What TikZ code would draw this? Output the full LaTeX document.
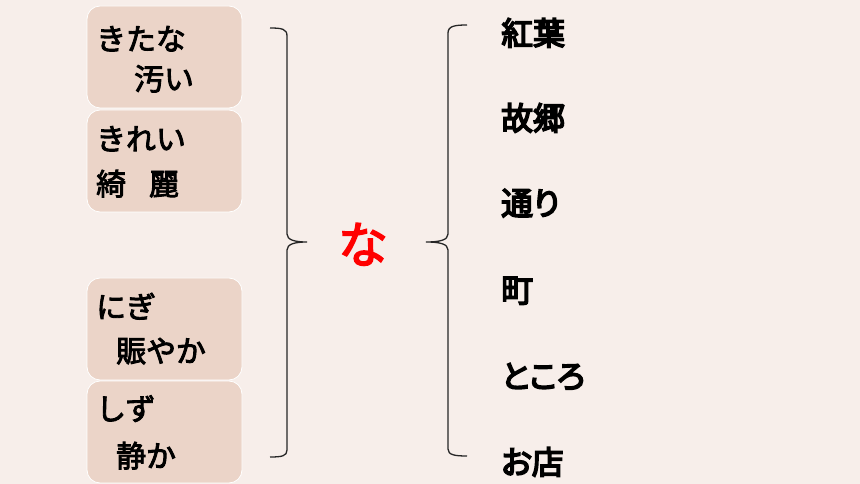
\documentclass[tikz,border=0pt]{standalone}
\usepackage{fontspec}
\newfontfamily\jp{Noto Sans CJK JP}[FakeBold=3]
\newfontfamily\jpm{Noto Sans CJK JP}[RawFeature=+palt,FakeBold=5]
\newfontfamily\jpn{Noto Sans CJK JP}[FakeBold=3]
\definecolor{bgc}{HTML}{F7EEEA}
\definecolor{boxc}{HTML}{EBD4C8}
\begin{document}
\begin{tikzpicture}[x=1bp,y=-1bp,
  wbox/.style={fill=boxc,draw=white,line width=0.8bp,rounded corners=13bp},
  ltxt/.style={anchor=base west,inner sep=0pt,font=\jp\fontsize{30}{36}\selectfont},
  rtxt/.style={anchor=base west,inner sep=0pt,font=\jpm\fontsize{32}{38}\selectfont},
  brace/.style={draw=black!85,line width=1.3bp}]
\useasboundingbox (0,0) rectangle (860,484);
\fill[bgc] (0,0) rectangle (860,484);
% boxes
\draw[wbox] (87,6) rectangle (242,108);
\draw[wbox] (87,110) rectangle (242,212);
\draw[wbox] (87,278) rectangle (242,380);
\draw[wbox] (87,381) rectangle (242,483);
% box texts
\node[ltxt] (a1) at (96,50) {きたな};
\node[ltxt] (a2) at (134,90) {汚い};
\node[ltxt] (b1) at (96,150) {きれい};
\node[ltxt] (b2) at (96,195) {綺\hspace{23bp}麗};
\node[ltxt] (c1) at (96,318) {にぎ};
\node[ltxt] (c2) at (116,362) {賑やか};
\node[ltxt] (d1) at (96,420) {しず};
\node[ltxt] (d2) at (116,467) {静か};
% center
\node[anchor=base,inner sep=0pt,text=red,font=\jpn\fontsize{50}{56}\selectfont] (na) at (363,263) {な};
% braces
\draw[brace] (270,28) .. controls (282,28) and (287,29) .. (287,36) -- (287,234)
  .. controls (287,240) and (295,242) .. (307,242)
  .. controls (295,242) and (287,244) .. (287,250) -- (287,450)
  .. controls (287,456) and (282,457) .. (270,457);
\draw[brace] (467,25) .. controls (455,25) and (448,26) .. (448,33) -- (448,234)
  .. controls (448,240) and (440,242) .. (426,242)
  .. controls (440,242) and (448,244) .. (448,250) -- (448,449)
  .. controls (448,455) and (455,456) .. (467,456);
% right words
\node[rtxt] (r1) at (501,45) {紅葉};
\node[rtxt] (r2) at (501,130) {故郷};
\node[rtxt] (r3) at (501,215) {通り};
\node[rtxt] (r4) at (501,302) {町};
\node[rtxt] (r5) at (501,388) {ところ};
\node[rtxt] (r6) at (501,474) {お店};
\end{tikzpicture}
\end{document}
